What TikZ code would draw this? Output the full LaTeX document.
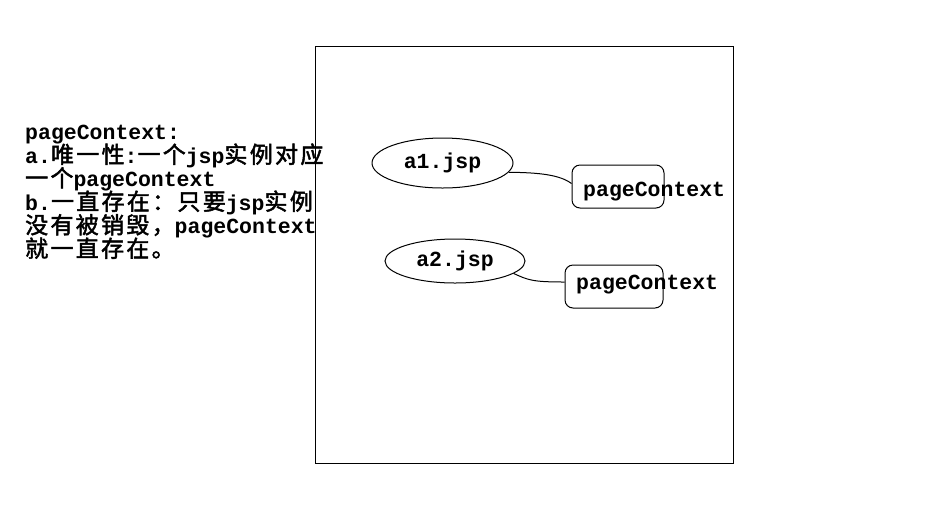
\documentclass[tikz,border=0pt]{standalone}
\usepackage{fontspec}
\setmainfont{Liberation Mono}
\newfontfamily\cjkfont{Noto Sans CJK SC}[LetterSpace=10, FakeBold=2]
\usetikzlibrary{shapes.geometric}
\newcommand\zh[1]{{\cjkfont\mdseries\fontsize{23}{23}\selectfont #1}}
\begin{document}
\begin{tikzpicture}[x=1pt,y=-1pt,
  txt/.style={font=\bfseries\fontsize{21.5}{23.5}\selectfont, inner sep=0pt, anchor=base west},
  frame/.style={draw, line width=1pt, inner sep=0pt},
  jsp/.style={ellipse, draw, line width=1pt, inner sep=0pt, font=\bfseries\fontsize{21.5}{23.5}\selectfont},
  ctx/.style={draw, rounded corners=8pt, line width=1pt, minimum height=43pt, inner sep=0pt},
  link/.style={line width=1pt}]
\fill[white] (0,0) rectangle (933,531);
\useasboundingbox (0,0) rectangle (933,531);
% left notes
\node[txt] (l1) at (25,139.5) {pageContext:};
\node[txt] (l2) at (25,163) {a.\zh{唯一性}:\zh{一个}jsp\zh{实例对应}};
\node[txt] (l3) at (25,186.5) {\zh{一个}pageContext};
\node[txt] (l4) at (25,210) {b.\zh{一直存在：只要}jsp\zh{实例}};
\node[txt] (l5) at (25,233.5) {\zh{没有被销毁，}pageContext};
\node[txt] (l6) at (25,257) {\zh{就一直存在。}};
% frame
\node[frame, minimum width=418pt, minimum height=417pt] (fr) at (524,254.5) {};
% ellipses
\node[jsp, minimum width=141pt, minimum height=50pt] (e1) at (442.5,163) {a1.jsp\hspace{22pt}};
\node[jsp, minimum width=140pt, minimum height=44pt] (e2) at (455,261) {a2.jsp\hspace{20pt}};
% boxes
\node[ctx, minimum width=92pt] (b1) at (618,186.5) {};
\node[ctx, minimum width=98pt] (b2) at (614,286.5) {};
\node[txt] (t1) at (583,196) {pageContext};
\node[txt] (t2) at (576,289) {pageContext};
% connectors
\draw[link] (e1.-8) .. controls (540,172.5) and (560,175) .. ([yshift=3pt]b1.west);
\draw[link] (e2.-12) .. controls (528,280) and (532,282) .. ([yshift=4.5pt]b2.west);
\end{tikzpicture}
\end{document}
